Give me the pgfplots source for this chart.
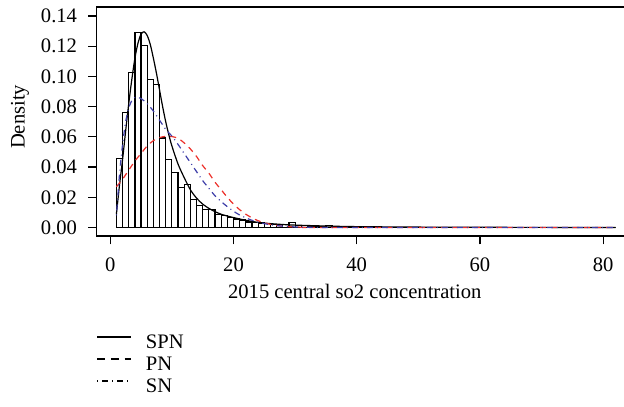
\documentclass[border=0pt]{standalone}
\usepackage{pgfplots}
\pgfplotsset{compat=1.18}
\usepackage{pgfplotstable}
\usepackage{fontspec}
\setmainfont{Liberation Serif}

\definecolor{pnred}{RGB}{236,48,42}
\definecolor{snblue}{RGB}{62,62,168}

% Histogram of the 2015 central SO2 concentration (left bin edge, density)
\pgfplotstableread{
x    d
1    0.0458
2    0.0762
3    0.1025
4    0.1288
5    0.1204
6    0.0980
7    0.0945
8    0.0593
9    0.0450
10   0.0364
11   0.0264
12   0.0284
13   0.0187
14   0.0145
15   0.0121
16   0.0121
17   0.0085
18   0.0077
19   0.0068
20   0.0057
21   0.0050
22   0.0037
23   0.0034
24   0.0030
25   0.0025
26   0.0021
27   0.0018
28   0.0019
29   0.0035
30   0.0012
31   0.0016
32   0.0009
33   0.0008
34   0.0007
35   0.0012
36   0.0005
37   0.0004
38   0.0004
39   0.0003
40   0.0003
41   0.0002
42   0.0002
43   0.0001
44   0.0002
45   0.0001
46   0.0001
47   0.0001
48   0.0001
49   0
50   0
55   0
60   0
65   0
70   0
75   0
80   0
81   0
82   0
}\histdata

% Fitted skew-power-normal density
\pgfplotstableread{
x    d
1    0.0090
1.5  0.0280
2    0.0450
2.5  0.0640
3    0.0820
3.5  0.0980
4    0.1120
4.5  0.1220
5    0.1280
5.5  0.1295
6    0.1270
6.5  0.1210
7    0.1120
7.5  0.1020
8    0.0910
8.5  0.0800
9    0.0700
9.5  0.0615
10   0.0540
11   0.0420
12   0.0330
13   0.0250
14   0.0195
15   0.0155
16   0.0127
17   0.0105
18   0.0088
19   0.0076
20   0.0066
22   0.0048
24   0.0034
26   0.0026
28   0.0020
30   0.0016
35   0.0010
40   0.0006
50   0.0003
60   0.00015
82   0.00005
}\spn

% Fitted power-normal density
\pgfplotstableread{
x    d
1    0.0270
2    0.0320
3    0.0380
4    0.0440
5    0.0490
6    0.0540
7    0.0575
8    0.0595
9    0.0603
10   0.0602
11   0.0590
12   0.0560
13   0.0520
14   0.0470
15   0.0410
16   0.0360
17   0.0300
18   0.0250
19   0.0200
20   0.0155
21   0.0118
22   0.0088
23   0.0064
24   0.0045
25   0.0031
26   0.0021
27   0.0014
28   0.0009
29   0.0006
30   0.0004
32   0.0001
35   0
82   0
}\pn

% Fitted skew-normal density
\pgfplotstableread{
x    d
1    0.0080
1.5  0.0350
2    0.0550
2.5  0.0700
3    0.0790
3.5  0.0840
4    0.0860
4.5  0.0862
5    0.0853
6    0.0820
7    0.0770
8    0.0710
9    0.0650
10   0.0605
11   0.0550
12   0.0490
13   0.0430
14   0.0370
15   0.0310
16   0.0260
17   0.0210
18   0.0172
19   0.0138
20   0.0108
21   0.0083
22   0.0064
23   0.0048
24   0.0036
25   0.0026
26   0.0018
27   0.0013
28   0.0009
30   0.0004
33   0.0001
40   0
82   0
}\sn

\begin{document}
\fontsize{10.3}{12.4}\selectfont
\begin{tikzpicture}
\begin{axis}[
  at={(0,0)}, anchor=south west,
  scale only axis, width=266.2pt, height=114.5pt,
  xmin=-2.2, xmax=84.2, ymin=-0.0056, ymax=0.1459,
  axis line style={line width=0.6pt},
  tick style={line width=0.6pt, black},
  tick align=outside, major tick length=4.2pt,
  xtick pos=bottom, ytick pos=left,
  xtick={0,20,40,60,80},
  ytick={0,0.02,0.04,0.06,0.08,0.10,0.12,0.14},
  /pgf/number format/assume math mode=true,
  yticklabel style={/pgf/number format/.cd, fixed, fixed zerofill, precision=2, /tikz/.cd, xshift=-2pt},
  xticklabel style={yshift=-3pt},
  scaled y ticks=false,
  xlabel={2015 central so2 concentration},
  ylabel={Density},
  every axis x label/.style={at={(axis description cs:0.4848,0)}, anchor=center, yshift=-27.5pt},
  every axis y label/.style={at={([xshift=-38.35pt]axis description cs:0,0.52)}, anchor=center, rotate=90},
  legend style={at={(axis description cs:0,0)}, anchor=north west, yshift=-49.4pt,
    draw=none, fill=none, inner sep=0pt, outer sep=0pt, column sep=7pt, row sep=2pt,
    nodes={inner sep=0pt, text height=7pt, text depth=2pt},
    cells={anchor=west}},
  legend cell align=left,
  legend image code/.code={\draw[#1] (0pt,3.4pt) -- (17pt,3.4pt);},
]
\addplot[ybar interval, draw=black, fill=white, line width=0.6pt, forget plot]
  table[x=x, y=d] {\histdata};
\addplot[black, line width=0.6pt, smooth, forget plot] table[x=x, y=d] {\spn};
\addplot[pnred, line width=0.6pt, smooth, dash pattern=on 3pt off 2.5pt, forget plot]
  table[x=x, y=d] {\pn};
\addplot[snblue, line width=0.6pt, smooth, dash pattern=on 0.5pt off 2pt on 3pt off 2pt, forget plot]
  table[x=x, y=d] {\sn};

\addlegendimage{black, line width=0.6pt}
\addlegendentry{SPN}
\addlegendimage{black, line width=0.6pt, dash pattern=on 3.8pt off 3pt}
\addlegendentry{PN}
\addlegendimage{black, line width=0.6pt, dash pattern=on 0.5pt off 2pt on 3pt off 2pt}
\addlegendentry{SN}
\end{axis}
\pgfresetboundingbox
\useasboundingbox (-48.35pt,-85pt) rectangle (263.65pt,118pt);
\end{tikzpicture}
\end{document}
